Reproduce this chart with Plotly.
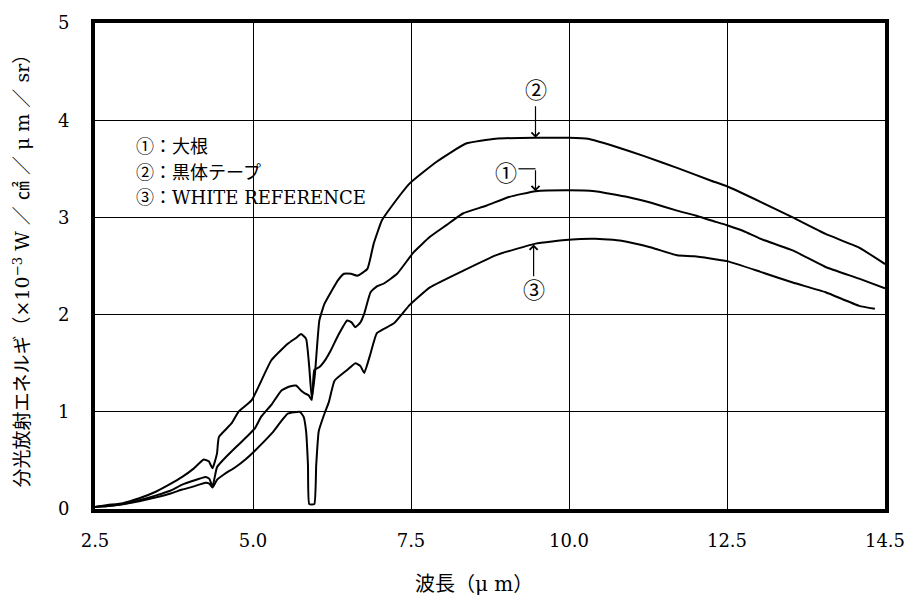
import plotly.graph_objects as go

# x positions are on the chart's evenly spaced axis (2.5 ... 15, last tick labelled 14.5)
tick_vals = [2.5, 5.0, 7.5, 10.0, 12.5, 15.0]
tick_text = ["2.5", "5.0", "7.5", "10.0", "12.5", "14.5"]
y_ticks = [0, 1, 2, 3, 4, 5]

# ① 大根
x1 = [2.5, 2.7, 2.94, 3.2, 3.47, 3.7, 3.88, 4.05, 4.25, 4.31, 4.36, 4.43, 4.55, 4.72, 4.88, 5.03, 5.13, 5.3,
      5.45, 5.58, 5.68, 5.76, 5.82, 5.88, 5.93, 5.97, 6.05, 6.15, 6.23, 6.35, 6.49, 6.56, 6.62, 6.7, 6.76,
      6.86, 6.96, 7.07, 7.28, 7.54, 7.8, 8.06, 8.32, 8.69, 9.05, 9.47, 9.99, 10.41, 10.93, 11.3, 11.71,
      12.0, 12.24, 12.5, 12.76, 13.03, 13.54, 14.06, 14.59, 15.0]
y1 = [0.02, 0.03, 0.05, 0.09, 0.14, 0.19, 0.25, 0.29, 0.33, 0.31, 0.23, 0.43, 0.52, 0.63, 0.73, 0.83, 0.95, 1.08,
      1.22, 1.26, 1.27, 1.22, 1.19, 1.17, 1.12, 1.43, 1.46, 1.54, 1.63, 1.79, 1.94, 1.92, 1.87, 1.92, 2.01,
      2.23, 2.29, 2.32, 2.42, 2.64, 2.80, 2.92, 3.04, 3.12, 3.21, 3.27, 3.28, 3.27, 3.21, 3.15, 3.07,
      3.02, 2.97, 2.92, 2.86, 2.78, 2.66, 2.49, 2.37, 2.27]

# ② 黒体テープ
x2 = [2.5, 2.7, 2.94, 3.2, 3.47, 3.7, 3.88, 4.05, 4.22, 4.3, 4.36, 4.43, 4.46, 4.66, 4.77, 4.98, 5.29, 5.55,
      5.68, 5.76, 5.84, 5.89, 5.93, 5.98, 6.05, 6.13, 6.25, 6.34, 6.44, 6.55, 6.65, 6.81, 6.91, 7.04,
      7.2, 7.48, 7.9, 8.37, 8.84, 9.47, 10.0, 10.3, 10.68, 11.19, 11.71, 12.24, 12.5, 13.03, 13.54,
      14.06, 14.59, 15.0]
y2 = [0.02, 0.04, 0.06, 0.11, 0.18, 0.26, 0.33, 0.41, 0.51, 0.49, 0.42, 0.57, 0.74, 0.88, 1.0, 1.12, 1.53, 1.70,
      1.76, 1.80, 1.75, 1.46, 1.14, 1.39, 1.94, 2.11, 2.25, 2.35, 2.42, 2.42, 2.40, 2.47, 2.73, 2.97,
      3.12, 3.35, 3.57, 3.76, 3.81, 3.82, 3.82, 3.81, 3.74, 3.63, 3.51, 3.38, 3.32, 3.16, 3.00,
      2.83, 2.69, 2.52]

# ③ WHITE REFERENCE
x3 = [2.5, 2.7, 2.94, 3.2, 3.47, 3.7, 3.88, 4.05, 4.25, 4.31, 4.36, 4.43, 4.55, 4.72, 4.88, 5.03, 5.3, 5.55,
      5.74, 5.8, 5.84, 5.87, 5.89, 5.97, 6.0, 6.04, 6.13, 6.2, 6.29, 6.49, 6.62, 6.7, 6.76, 6.86, 6.96,
      7.23, 7.48, 7.8, 8.32, 8.84, 9.47, 9.99, 10.41, 10.83, 11.3, 11.71, 11.98, 12.5, 13.03, 13.54,
      14.06, 14.59, 14.84]
y3 = [0.02, 0.03, 0.05, 0.08, 0.12, 0.16, 0.20, 0.23, 0.27, 0.26, 0.22, 0.30, 0.36, 0.43, 0.51, 0.60, 0.78, 0.98,
      1.00, 0.95, 0.80, 0.45, 0.05, 0.05, 0.45, 0.80, 0.98, 1.10, 1.32, 1.43, 1.50, 1.47, 1.40, 1.60, 1.81,
      1.91, 2.10, 2.28, 2.45, 2.61, 2.73, 2.77, 2.78, 2.76, 2.69, 2.61, 2.60, 2.55, 2.44, 2.33,
      2.23, 2.09, 2.06]

legend_lines = ["①：大根", "②：黒体テープ", "③：WHITE REFERENCE"]

SERIF = "DejaVu Serif, Noto Sans CJK JP"
NUMF = "DejaVu Serif"
fig = go.Figure()
for xs, ys in [(x1, y1), (x2, y2), (x3, y3)]:
    fig.add_trace(go.Scatter(x=xs, y=ys, mode="lines",
                             line=dict(color="black", width=2, shape="spline", smoothing=0.4),
                             showlegend=False, hoverinfo="skip"))

fig.update_layout(
    width=917, height=599,
    margin=dict(l=95, r=24, t=22, b=90),
    paper_bgcolor="white", plot_bgcolor="white",
    font=dict(family=NUMF, size=18, color="black"),
    showlegend=False,
)
fig.update_xaxes(range=[2.5, 15.0], tickvals=tick_vals, ticktext=tick_text,
                 showgrid=True, gridcolor="black", gridwidth=1, zeroline=False,
                 showline=True, linecolor="black", linewidth=4, mirror=True,
                 ticks="", ticklabelstandoff=12, tickfont=dict(family=NUMF, size=18))
fig.update_yaxes(range=[0, 5], tickvals=y_ticks,
                 showgrid=True, gridcolor="black", gridwidth=1, zeroline=False,
                 showline=True, linecolor="black", linewidth=4, mirror=True,
                 ticks="", ticklabelstandoff=18, tickfont=dict(family=NUMF, size=18))

# axis titles
fig.add_annotation(text="波長（μ m）", xref="paper", yref="paper", x=0.48, y=-0.155,
                   showarrow=False, font=dict(size=20, family=SERIF), yanchor="middle")
fig.add_annotation(text="分光放射エネルギ（×10<sup>−3</sup> W ／ ㎠ ／ μ m ／ sr）", xref="paper", yref="paper",
                   x=-0.093, y=0.5, textangle=-90, showarrow=False,
                   font=dict(size=19, family=SERIF), xanchor="center", yanchor="middle")

# legend text block
for i, t in enumerate(legend_lines):
    fig.add_annotation(text=t, xref="x", yref="y", x=3.12, y=3.73 - 0.265 * i,
                       xanchor="left", yanchor="middle", showarrow=False,
                       font=dict(size=18, family=SERIF))

# ② arrow
fig.add_annotation(x=9.47, y=3.82, xref="x", yref="y", ax=9.47, ay=4.16, axref="x", ayref="y",
                   showarrow=True, arrowhead=4, arrowsize=1.3, arrowwidth=1.2, arrowcolor="black", text="")
fig.add_annotation(x=9.47, y=4.31, xref="x", yref="y", text="②", showarrow=False,
                   font=dict(size=22, family=SERIF))
# ① bent arrow
fig.add_shape(type="line", xref="x", yref="y", x0=9.2, y0=3.5, x1=9.47, y1=3.5,
              line=dict(color="black", width=1.2))
fig.add_annotation(x=9.47, y=3.27, xref="x", yref="y", ax=9.47, ay=3.5, axref="x", ayref="y",
                   showarrow=True, arrowhead=4, arrowsize=1.3, arrowwidth=1.2, arrowcolor="black", text="")
fig.add_annotation(x=9.0, y=3.45, xref="x", yref="y", text="①", showarrow=False,
                   font=dict(size=22, family=SERIF))
# ③ arrow
fig.add_annotation(x=9.44, y=2.72, xref="x", yref="y", ax=9.44, ay=2.38, axref="x", ayref="y",
                   showarrow=True, arrowhead=4, arrowsize=1.3, arrowwidth=1.2, arrowcolor="black", text="")
fig.add_annotation(x=9.44, y=2.25, xref="x", yref="y", text="③", showarrow=False,
                   font=dict(size=22, family=SERIF))

fig.write_html("out.html")
